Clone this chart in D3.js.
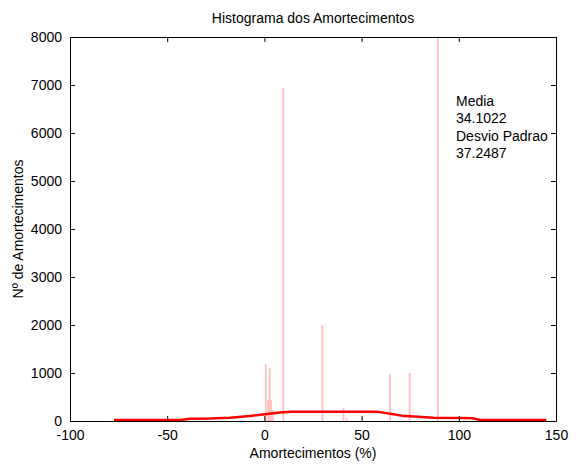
<!DOCTYPE html>
<html><head><meta charset="utf-8">
<script src="https://cdn.jsdelivr.net/npm/d3@7"></script>
<style>body{margin:0;background:#fff}svg{display:block;font-family:"Liberation Sans",Arial,sans-serif}</style>
</head><body><svg id="c" width="577" height="466"></svg>
<script>
const barPos = [0.7, 1.9, 2.7, 3.4, 4.4, 9.7, 29.9, 40.7, 42.3, 64.6, 74.7, 89.2];
const barCount = [1180, 440, 1100, 430, 230, 6940, 2000, 270, 70, 980, 1000, 9000];
const curveX = [-77.4, -43.5, -38.3, -28, -17.7, -7.5, 0.3, 8, 14, 58, 71, 87, 101, 107, 111, 145];
const curveY = [20, 20, 45, 50, 70, 105, 140, 175, 195, 195, 110, 70, 60, 55, 20, 20];
const xTicks = [-100, -50, 0, 50, 100, 150];
const yTicks = [0, 1000, 2000, 3000, 4000, 5000, 6000, 7000, 8000];
const statLines = ["Media", "34.1022", "Desvio Padrao", "37.2487"];

const svg = d3.select("#c");
const L = 70, R = 556, T = 37, B = 421;
const x = d3.scaleLinear().domain([-100, 150]).range([L, R]);
const y = d3.scaleLinear().domain([0, 8000]).range([B, T]);
const fmt = (d) => String(d);

svg.append("defs").append("clipPath").attr("id", "clip")
  .append("rect").attr("x", L).attr("y", T).attr("width", R - L).attr("height", B - T);

const g = svg.append("g").attr("clip-path", "url(#clip)");
g.selectAll("rect.bar").data(barPos).enter().append("rect")
  .attr("x", (d) => x(d) - 0.9).attr("width", 1.8)
  .attr("y", (d, i) => y(barCount[i])).attr("height", (d, i) => B - y(barCount[i]))
  .attr("fill", "#ffc0c0");

const line = d3.line().x((d) => x(d[0])).y((d) => y(d[1]));
g.append("path").datum(curveX.map((d, i) => [d, curveY[i]]))
  .attr("d", line).attr("fill", "none").attr("stroke", "#ff0000").attr("stroke-width", 2.5);

// axes
const fs = 14;
const ax = svg.append("g").attr("transform", `translate(0,${B})`)
  .call(d3.axisBottom(x).tickValues(xTicks).tickFormat(fmt).tickSizeInner(-5).tickSizeOuter(0).tickPadding(9));
const axTop = svg.append("g").attr("transform", `translate(0,${T})`)
  .call(d3.axisTop(x).tickValues(xTicks).tickSizeInner(-5).tickSizeOuter(0).tickFormat(""));
const ay = svg.append("g").attr("transform", `translate(${L},0)`)
  .call(d3.axisLeft(y).tickValues(yTicks).tickFormat(fmt).tickSizeInner(-5).tickSizeOuter(0).tickPadding(8));
const ayR = svg.append("g").attr("transform", `translate(${R},0)`)
  .call(d3.axisRight(y).tickValues(yTicks).tickSizeInner(-5).tickSizeOuter(0).tickFormat(""));
[ax, axTop, ay, ayR].forEach((a) => {
  a.selectAll("path").attr("stroke", "#000").attr("stroke-width", 1);
  a.selectAll("line").attr("stroke", "#000");
  a.selectAll("text").attr("font-size", fs).attr("fill", "#000").attr("font-family", "Liberation Sans, Arial, sans-serif");
});

svg.append("text").attr("x", (L + R) / 2 + 0).attr("y", 23).attr("text-anchor", "middle")
  .attr("font-size", fs).text("Histograma dos Amortecimentos");
svg.append("text").attr("x", (L + R) / 2).attr("y", 458).attr("text-anchor", "middle")
  .attr("font-size", fs).text("Amortecimentos (%)");
svg.append("text").attr("transform", `translate(23,${(T + B) / 2}) rotate(-90)`).attr("text-anchor", "middle")
  .attr("font-size", fs).text("Nº de Amortecimentos");

svg.append("g").selectAll("text").data(statLines).enter().append("text")
  .attr("x", 456).attr("y", (d, i) => 106 + i * 17.3).attr("font-size", fs).text((d) => d);
</script></body></html>
